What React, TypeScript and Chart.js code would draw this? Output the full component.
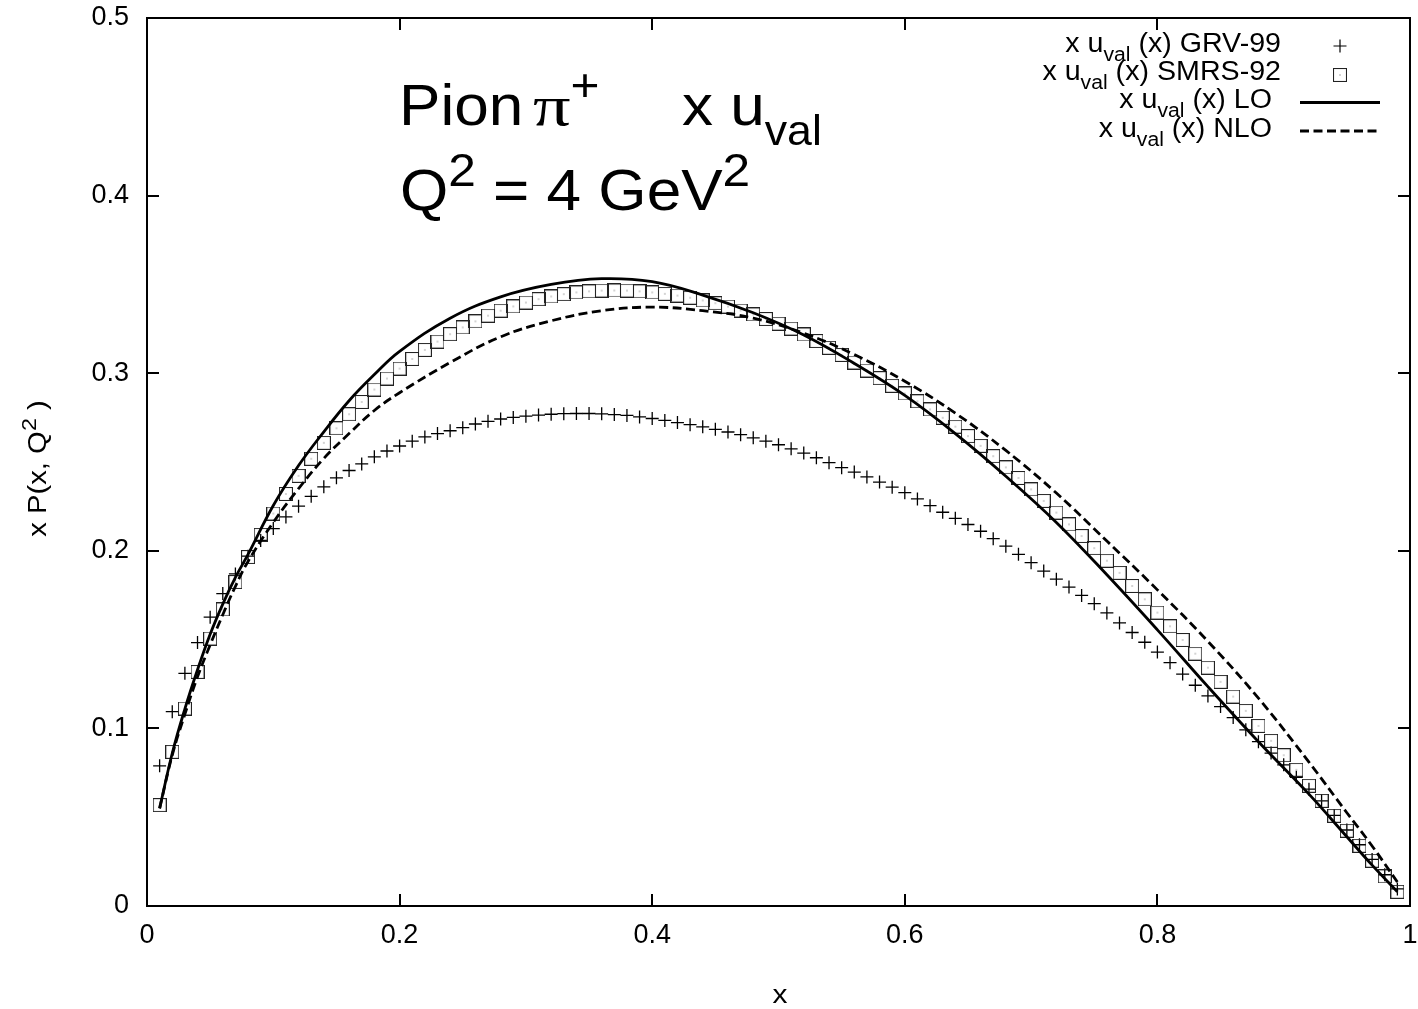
import React, { useEffect, useRef } from 'react';
import { Chart, registerables } from 'chart.js';

Chart.register(...registerables);

// ---------------- data ----------------
const X_GRID = [
  0.01, 0.02, 0.03, 0.04, 0.05, 0.06, 0.07, 0.08, 0.09, 0.10,
  0.11, 0.12, 0.13, 0.14, 0.15, 0.16, 0.17, 0.18, 0.19, 0.20,
  0.21, 0.22, 0.23, 0.24, 0.25, 0.26, 0.27, 0.28, 0.29, 0.30,
  0.31, 0.32, 0.33, 0.34, 0.35, 0.36, 0.37, 0.38, 0.39, 0.40,
  0.41, 0.42, 0.43, 0.44, 0.45, 0.46, 0.47, 0.48, 0.49, 0.50,
  0.51, 0.52, 0.53, 0.54, 0.55, 0.56, 0.57, 0.58, 0.59, 0.60,
  0.61, 0.62, 0.63, 0.64, 0.65, 0.66, 0.67, 0.68, 0.69, 0.70,
  0.71, 0.72, 0.73, 0.74, 0.75, 0.76, 0.77, 0.78, 0.79, 0.80,
  0.81, 0.82, 0.83, 0.84, 0.85, 0.86, 0.87, 0.88, 0.89, 0.90,
  0.91, 0.92, 0.93, 0.94, 0.95, 0.96, 0.97, 0.98, 0.99,
];

const GRV99 = [
  0.0789, 0.1094, 0.1310, 0.1483, 0.1626, 0.1759, 0.1870, 0.1970, 0.2058, 0.2125,
  0.2191, 0.2251, 0.2307, 0.2360, 0.2411, 0.2452, 0.2489, 0.2529, 0.2562, 0.2590,
  0.2617, 0.2641, 0.2660, 0.2676, 0.2693, 0.2714, 0.2729, 0.2742, 0.2751, 0.2758,
  0.2764, 0.2769, 0.2772, 0.2773, 0.2773, 0.2771, 0.2767, 0.2762, 0.2754, 0.2745,
  0.2734, 0.2722, 0.2710, 0.2698, 0.2684, 0.2669, 0.2654, 0.2636, 0.2617, 0.2597,
  0.2574, 0.2550, 0.2524, 0.2496, 0.2468, 0.2443, 0.2416, 0.2387, 0.2358, 0.2327,
  0.2292, 0.2254, 0.2217, 0.2183, 0.2148, 0.2110, 0.2068, 0.2026, 0.1980, 0.1933,
  0.1886, 0.1840, 0.1796, 0.1749, 0.1702, 0.1650, 0.1594, 0.1540, 0.1485, 0.1430,
  0.1370, 0.1306, 0.1243, 0.1183, 0.1123, 0.1061, 0.0992, 0.0925, 0.0861, 0.0795,
  0.0725, 0.0658, 0.0592, 0.0510, 0.0428, 0.0345, 0.0262, 0.0176, 0.0096,
];

const SMRS92 = [
  0.0568, 0.0868, 0.1112, 0.1318, 0.1506, 0.1670, 0.1824, 0.1965, 0.2090, 0.2210,
  0.2320, 0.2422, 0.2518, 0.2608, 0.2690, 0.2769, 0.2838, 0.2908, 0.2970, 0.3026,
  0.3080, 0.3131, 0.3178, 0.3220, 0.3258, 0.3292, 0.3324, 0.3352, 0.3376, 0.3398,
  0.3417, 0.3432, 0.3445, 0.3455, 0.3461, 0.3465, 0.3466, 0.3465, 0.3461, 0.3455,
  0.3447, 0.3437, 0.3425, 0.3410, 0.3394, 0.3375, 0.3353, 0.3331, 0.3305, 0.3279,
  0.3251, 0.3218, 0.3181, 0.3143, 0.3103, 0.3060, 0.3015, 0.2972, 0.2929, 0.2886,
  0.2842, 0.2796, 0.2749, 0.2699, 0.2646, 0.2591, 0.2533, 0.2470, 0.2410, 0.2346,
  0.2281, 0.2215, 0.2149, 0.2083, 0.2015, 0.1944, 0.1876, 0.1802, 0.1727, 0.1652,
  0.1575, 0.1498, 0.1421, 0.1342, 0.1262, 0.1179, 0.1099, 0.1014, 0.0930, 0.0849,
  0.0767, 0.0677, 0.0592, 0.0508, 0.0424, 0.0339, 0.0255, 0.0167, 0.0080,
];

const CURVE_X = [
  0.01, 0.02, 0.03, 0.04, 0.05, 0.06, 0.07, 0.08, 0.10, 0.12, 0.14, 0.16,
  0.18, 0.20, 0.24, 0.28, 0.32, 0.36, 0.40, 0.44, 0.48, 0.52, 0.56, 0.60,
  0.64, 0.68, 0.72, 0.76, 0.80, 0.84, 0.88, 0.92, 0.95, 0.97, 0.99,
];

const LO = [
  0.055, 0.086, 0.111, 0.133, 0.153, 0.170, 0.185, 0.198, 0.2255, 0.248, 0.267, 0.2845,
  0.2992, 0.3123, 0.331, 0.343, 0.350, 0.3532, 0.3515, 0.344, 0.334, 0.3215, 0.3055, 0.2875,
  0.2660, 0.2420, 0.2160, 0.1865, 0.1555, 0.1235, 0.0925, 0.063, 0.039, 0.023, 0.008,
];

const NLO = [
  0.055, 0.085, 0.108, 0.129, 0.147, 0.164, 0.180, 0.194, 0.216, 0.235, 0.252, 0.266,
  0.279, 0.289, 0.306, 0.3205, 0.3295, 0.3352, 0.3372, 0.3352, 0.331, 0.3225, 0.3105, 0.2955,
  0.2775, 0.2565, 0.2325, 0.2055, 0.1780, 0.1490, 0.1170, 0.0810, 0.0525, 0.0338, 0.0135,
];

const X_TICKS = ['0', '0.2', '0.4', '0.6', '0.8', '1'];
const Y_TICKS = ['0', '0.1', '0.2', '0.3', '0.4', '0.5'];
const LEGEND_NAMES = ['GRV-99', 'SMRS-92', 'LO', 'NLO'];

// ---------------- helpers ----------------
const SANS = '"Liberation Sans", Arial, Helvetica, sans-serif';
const SERIF = '"Liberation Serif", "Times New Roman", serif';

type Seg = { t: string; k?: 'sup' | 'sub'; f?: string; w?: number };
type RichOpts = {
  size: number;
  align?: 'left' | 'right' | 'center';
  sx?: number;
  supRatio?: number;
  subRatio?: number;
  supShift?: number;
  subShift?: number;
};

function segSize(s: Seg, o: RichOpts) {
  if (s.k === 'sup') return o.size * (o.supRatio ?? 0.8);
  if (s.k === 'sub') return o.size * (o.subRatio ?? 0.75);
  return o.size;
}

function drawRich(ctx: CanvasRenderingContext2D, segs: Seg[], x: number, y: number, o: RichOpts) {
  ctx.save();
  ctx.translate(x, y);
  ctx.scale(o.sx ?? 1, 1);
  let total = 0;
  for (const s of segs) {
    ctx.font = `${segSize(s, o)}px ${s.f || SANS}`;
    total += ctx.measureText(s.t).width * (s.w ?? 1);
  }
  let cx = o.align === 'right' ? -total : o.align === 'center' ? -total / 2 : 0;
  ctx.textAlign = 'left';
  ctx.textBaseline = 'alphabetic';
  ctx.fillStyle = '#000';
  for (const s of segs) {
    ctx.font = `${segSize(s, o)}px ${s.f || SANS}`;
    const dy = s.k === 'sup' ? -o.size * (o.supShift ?? 0.42) : s.k === 'sub' ? o.size * (o.subShift ?? 0.33) : 0;
    const wf = s.w ?? 1;
    ctx.save();
    ctx.translate(cx, dy);
    ctx.scale(wf, 1);
    ctx.fillText(s.t, 0, 0);
    ctx.restore();
    cx += ctx.measureText(s.t).width * wf;
  }
  ctx.restore();
}

function makeSquareMarker(): HTMLCanvasElement {
  const c = document.createElement('canvas');
  c.width = 14;
  c.height = 14;
  const g = c.getContext('2d')!;
  g.strokeStyle = '#222';
  g.lineWidth = 1.1;
  g.strokeRect(0.5, 0.5, 13, 13);
  g.fillStyle = '#555';
  g.fillRect(6.5, 6.5, 1, 1);
  return c;
}

function uval(name: string): Seg[] {
  return [{ t: 'x u' }, { t: 'val', k: 'sub' }, { t: ' (x) ' + name }];
}

// ---------------- component ----------------
export default function App() {
  const ref = useRef<HTMLCanvasElement>(null);

  useEffect(() => {
    const square = makeSquareMarker();

    const overlay = {
      id: 'overlay',
      afterDraw(chart: any) {
        const { ctx, chartArea: a, scales } = chart;
        ctx.save();
        // frame
        ctx.strokeStyle = '#000';
        ctx.lineWidth = 2;
        ctx.setLineDash([]);
        ctx.strokeRect(a.left, a.top, a.right - a.left, a.bottom - a.top);
        // inward ticks on all four sides
        ctx.beginPath();
        const TL = 12;
        for (const t of scales.x.ticks) {
          const px = Math.round(scales.x.getPixelForValue(t.value));
          ctx.moveTo(px, a.bottom);
          ctx.lineTo(px, a.bottom - TL);
          ctx.moveTo(px, a.top);
          ctx.lineTo(px, a.top + TL);
        }
        for (const t of scales.y.ticks) {
          const py = Math.round(scales.y.getPixelForValue(t.value));
          ctx.moveTo(a.left, py);
          ctx.lineTo(a.left + TL, py);
          ctx.moveTo(a.right, py);
          ctx.lineTo(a.right - TL, py);
        }
        ctx.stroke();

        // legend
        const rowY = [46, 74.5, 102.5, 131];
        const textRight = [1281, 1281, 1272, 1272];
        const sx = 1340;
        for (let i = 0; i < 4; i++) {
          drawRich(ctx, uval(LEGEND_NAMES[i]), textRight[i], rowY[i] + 5.5, {
            size: 27, align: 'right', sx: 1.06, subRatio: 0.74, subShift: 0.34,
          });
        }
        ctx.lineWidth = 1.2;
        ctx.strokeStyle = '#000';
        ctx.beginPath();
        ctx.moveTo(sx - 6.5, rowY[0]);
        ctx.lineTo(sx + 6.5, rowY[0]);
        ctx.moveTo(sx, rowY[0] - 6.5);
        ctx.lineTo(sx, rowY[0] + 6.5);
        ctx.stroke();
        ctx.drawImage(square, sx - 7, Math.round(rowY[1]) - 7);
        ctx.strokeStyle = '#000';
        ctx.lineWidth = 2.8;
        ctx.beginPath();
        ctx.moveTo(1300, rowY[2]);
        ctx.lineTo(1380, rowY[2]);
        ctx.stroke();
        ctx.setLineDash([9, 4.5]);
        ctx.beginPath();
        ctx.moveTo(1300, rowY[3]);
        ctx.lineTo(1380, rowY[3]);
        ctx.stroke();
        ctx.setLineDash([]);

        // title inside plot
        const tOpts = { size: 58, sx: 1.07, supRatio: 0.8, subRatio: 0.72, supShift: 0.42, subShift: 0.34 };
        drawRich(ctx, [{ t: 'Pion' }], 399, 125, tOpts);
        drawRich(ctx, [{ t: 'π', f: SERIF, w: 1.2 }, { t: '+', k: 'sup' }], 533, 125, tOpts);
        drawRich(ctx, [{ t: 'x u' }, { t: 'val', k: 'sub' }], 682, 125, tOpts);
        drawRich(ctx, [{ t: 'Q' }, { t: '2', k: 'sup' }, { t: ' = 4 GeV' }, { t: '2', k: 'sup' }], 400, 210, tOpts);

        // axis titles
        drawRich(ctx, [{ t: 'x' }], 780, 1003, { size: 26, align: 'center', sx: 1.15 });
        ctx.save();
        ctx.translate(46, 468.5);
        ctx.rotate(-Math.PI / 2);
        drawRich(ctx, [{ t: 'x P(x, Q' }, { t: '2', k: 'sup' }, { t: ' )' }], 0, 0, {
          size: 25, align: 'center', sx: 1.17, supRatio: 0.8, supShift: 0.42,
        });
        ctx.restore();

        ctx.restore();
      },
    };

    const chart = new Chart(ref.current!, {
      type: 'scatter',
      data: {
        datasets: [
          {
            label: 'x u_val (x) GRV-99',
            data: X_GRID.map((x, i) => ({ x, y: GRV99[i] })),
            pointStyle: 'cross',
            pointRadius: 6.5,
            pointBorderWidth: 1.3,
            borderColor: '#000',
            backgroundColor: '#000',
            showLine: false,
            order: 3,
          },
          {
            label: 'x u_val (x) SMRS-92',
            data: X_GRID.map((x, i) => ({ x, y: SMRS92[i] })),
            pointStyle: square as any,
            pointRadius: 7,
            borderColor: '#222',
            showLine: false,
            order: 2,
          },
          {
            label: 'x u_val (x) LO',
            data: CURVE_X.map((x, i) => ({ x, y: LO[i] })),
            showLine: true,
            pointRadius: 0,
            borderColor: '#000',
            borderWidth: 2.8,
            tension: 0.4,
            order: 1,
          },
          {
            label: 'x u_val (x) NLO',
            data: CURVE_X.map((x, i) => ({ x, y: NLO[i] })),
            showLine: true,
            pointRadius: 0,
            borderColor: '#000',
            borderWidth: 2.8,
            borderDash: [9, 4.5],
            tension: 0.4,
            order: 0,
          },
        ],
      },
      options: {
        animation: false,
        responsive: false,
        devicePixelRatio: 1,
        events: [],
        layout: { padding: { top: 18, right: 5, left: 0, bottom: 0 } },
        plugins: {
          legend: { display: false },
          tooltip: { enabled: false },
          title: { display: false },
        },
        scales: {
          x: {
            type: 'linear',
            min: 0,
            max: 1,
            grid: { display: false, drawTicks: false },
            border: { display: false },
            ticks: {
              stepSize: 0.2,
              padding: 13,
              color: '#000',
              font: { family: SANS, size: 27 },
              maxRotation: 0,
              callback: (_v: any, i: number) => X_TICKS[i],
            },
            afterFit: (s: any) => {
              s.height = 103;
              s.paddingLeft = 0;
              s.paddingRight = 0;
            },
          },
          y: {
            type: 'linear',
            min: 0,
            max: 0.5,
            grid: { display: false, drawTicks: false },
            border: { display: false },
            ticks: {
              stepSize: 0.1,
              padding: 18,
              color: '#000',
              font: { family: SANS, size: 27 },
              callback: (_v: any, i: number) => Y_TICKS[i],
            },
            afterFit: (s: any) => {
              s.width = 147;
              s.paddingTop = 0;
              s.paddingBottom = 0;
            },
          },
        },
      },
      plugins: [overlay],
    } as any);

    return () => chart.destroy();
  }, []);

  return (
    <div style={{ position: 'absolute', left: 0, top: 0, width: 1418, height: 1009, background: '#fff' }}>
      <canvas ref={ref} width={1418} height={1009} style={{ display: 'block' }} />
    </div>
  );
}
